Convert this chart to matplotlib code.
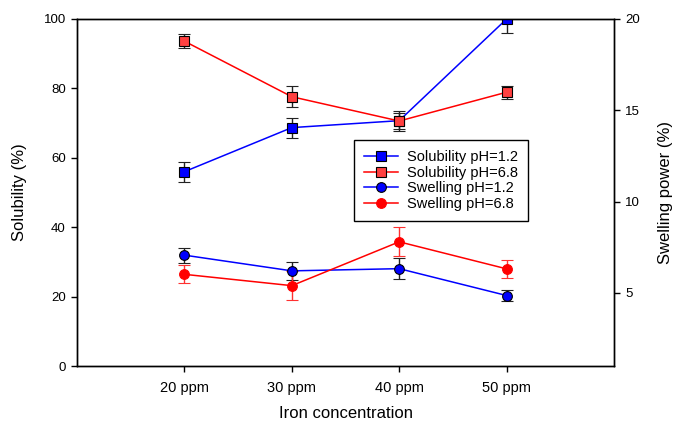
import numpy as np
import matplotlib
matplotlib.use('Agg')
import matplotlib.pyplot as plt
from matplotlib.lines import Line2D

plt.rcParams['font.family'] = ['Liberation Sans', 'DejaVu Sans']

conc_labels = ['20 ppm', '30 ppm', '40 ppm', '50 ppm']

sol_ph12 = [56.0, 68.7, 70.7, 100.0]
sol_ph12_err = [2.9, 2.9, 2.9, 4.0]
sol_ph68 = [93.6, 77.6, 70.6, 78.9]
sol_ph68_err = [2.0, 3.0, 2.2, 1.9]

swell_ph12 = [7.07, 6.21, 6.33, 4.86]
swell_ph12_err = [0.41, 0.5, 0.58, 0.32]
swell_ph68 = [6.02, 5.4, 7.8, 6.32]
swell_ph68_err = [0.5, 0.8, 0.8, 0.5]

series_names = ['Solubility pH=1.2', 'Solubility pH=6.8', 'Swelling pH=1.2', 'Swelling pH=6.8']

x = np.arange(2, 2 + len(conc_labels))

fig = plt.figure(figsize=(6.78, 4.21), dpi=100)
ax = fig.add_axes([0.1136, 0.1306, 0.792, 0.8243])
ax2 = ax.twinx()

ms = 7
cap = 4
styles = [
    dict(color='blue', marker='s', mfc='blue', mec='black'),
    dict(color='red', marker='s', mfc='#ff4040', mec='black'),
    dict(color='blue', marker='o', mfc='blue', mec='black'),
    dict(color='red', marker='o', mfc='red', mec='red'),
]

ax.errorbar(x, sol_ph12, yerr=sol_ph12_err, ms=ms, mew=0.8, lw=1.1, ecolor='#222222',
            elinewidth=1, capsize=cap, zorder=3, **styles[0])
ax.errorbar(x, sol_ph68, yerr=sol_ph68_err, ms=ms, mew=0.8, lw=1.1, ecolor='#222222',
            elinewidth=1, capsize=cap, zorder=3, **styles[1])
ax2.errorbar(x, swell_ph12, yerr=swell_ph12_err, ms=ms, mew=0.8, lw=1.1, ecolor='#222222',
             elinewidth=1, capsize=cap, zorder=3, **styles[2])
ax2.errorbar(x, swell_ph68, yerr=swell_ph68_err, ms=ms, mew=0.8, lw=1.1, ecolor='#ff3030',
             elinewidth=1, capsize=cap, zorder=3, **styles[3])

ax.set_xlim(1, 6)
ax.set_ylim(0, 100)
ax2.set_ylim(1, 20)
ax.set_xticks(x)
ax.set_xticklabels(conc_labels)
ax.set_yticks(np.arange(0, 101, 20))
ax2.set_yticks([5, 10, 15, 20])

for a in (ax, ax2):
    a.tick_params(direction='out', length=4, width=1, labelsize=9.5, pad=4)
    for s in a.spines.values():
        s.set_linewidth(1)
ax.tick_params(axis='x', labelsize=10.5, pad=7)

ax.set_xlabel('Iron concentration', fontsize=12, labelpad=8)
ax.set_ylabel('Solubility (%)', fontsize=12, labelpad=12)
ax2.set_ylabel('Swelling power (%)', fontsize=12, labelpad=13)

handles = [Line2D([], [], ms=ms, mew=0.8, lw=1.1, **st) for st in styles]
leg = ax2.legend(handles, series_names,
                 loc='upper left', bbox_to_anchor=(0.516, 0.651), borderaxespad=0,
                 fontsize=10.5, fancybox=False, framealpha=1, edgecolor='black',
                 handlelength=2.3, labelspacing=0.1, borderpad=0.7, handletextpad=0.6)
leg.get_frame().set_linewidth(1)

fig.savefig('out.png', dpi=100)
